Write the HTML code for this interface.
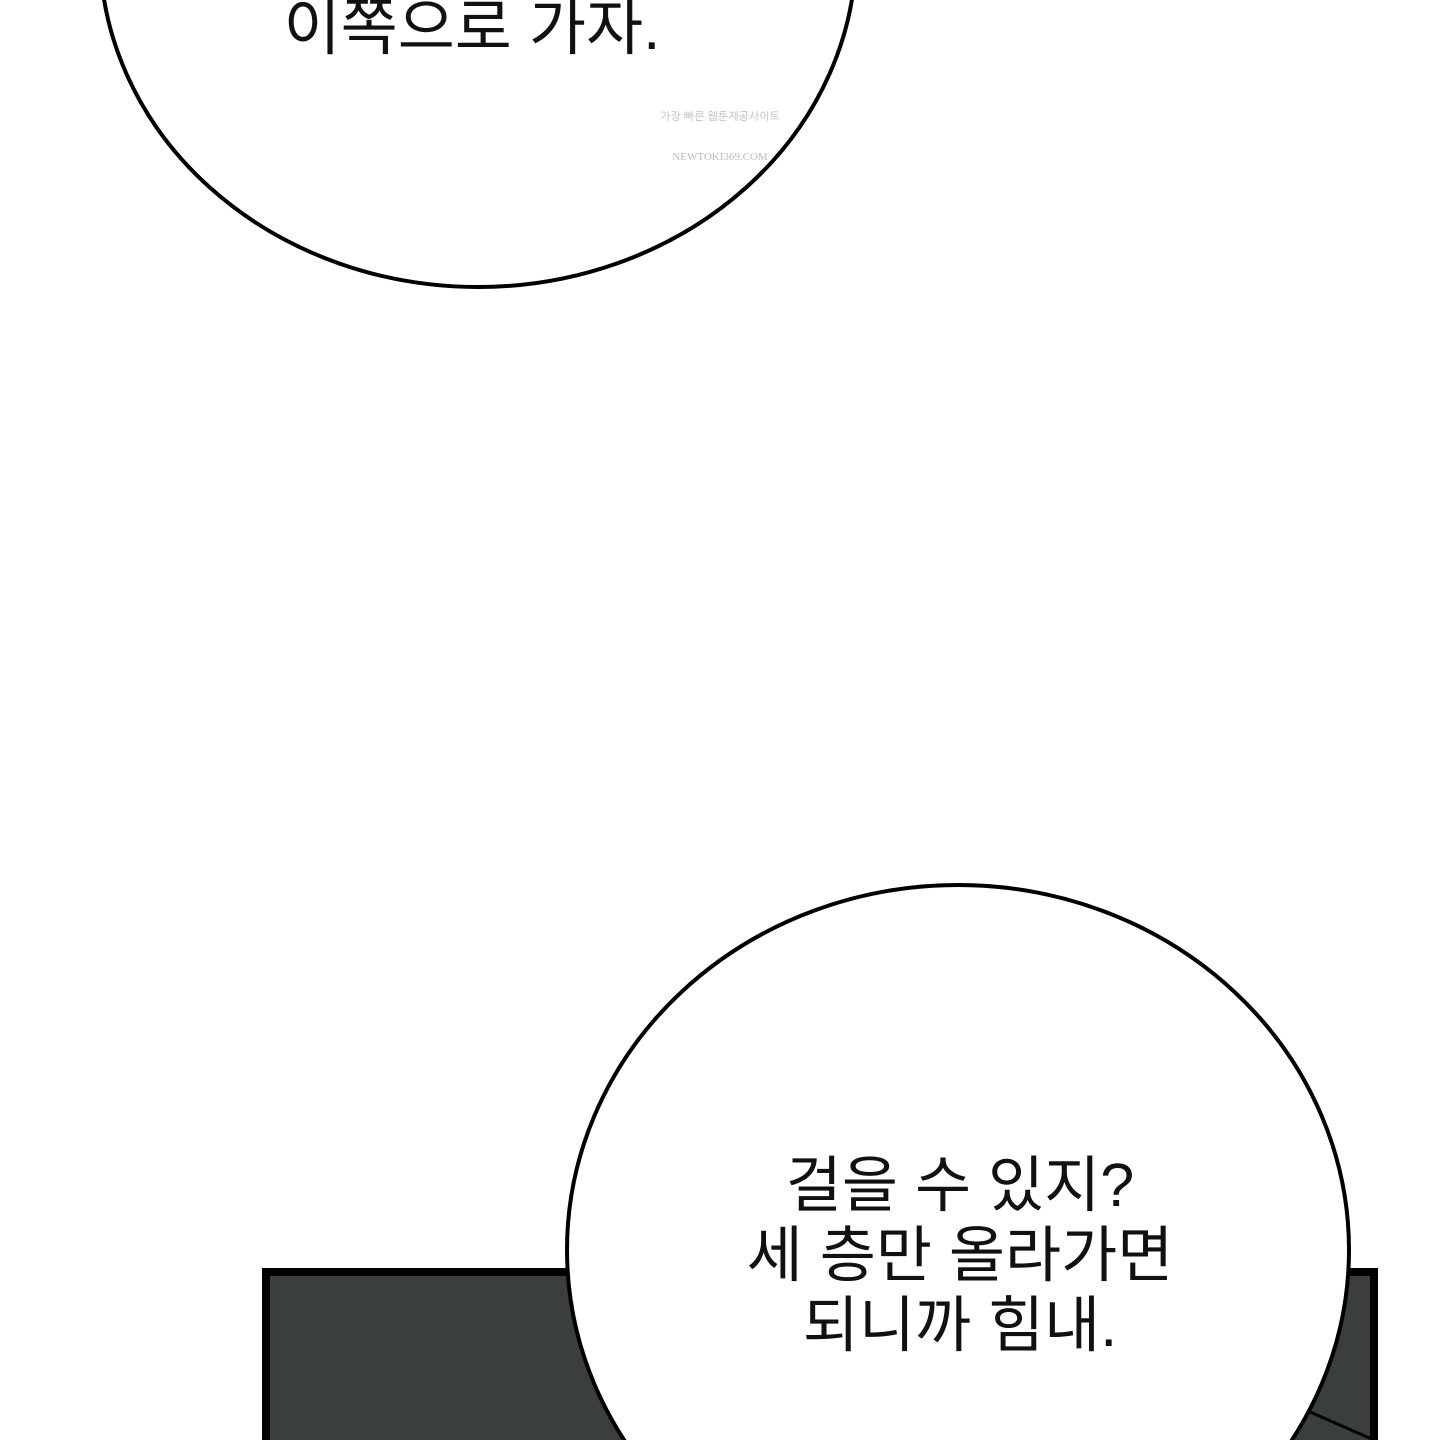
<!DOCTYPE html>
<html style="overflow:hidden"><head><meta charset="utf-8"><style>
html,body{margin:0;width:1440px;height:1440px;overflow:hidden}
body{background:#fff;position:relative;font-family:"Liberation Sans","Noto Sans CJK KR","NanumGothic",sans-serif;}
svg{position:absolute;left:0;top:0}
.t{position:absolute;color:#111;font-size:61px;text-align:center;line-height:70px;white-space:nowrap}
</style></head><body>
<svg width="1440" height="1440">
<ellipse cx="478" cy="-50" rx="378" ry="337" fill="#fff" stroke="#000" stroke-width="4"/>
<rect x="266" y="1272" width="1108" height="180" fill="#3a3f3b" stroke="#000" stroke-width="8"/>
<line x1="1310" y1="1412" x2="1374" y2="1440" stroke="#000" stroke-width="3"/>
<ellipse cx="958" cy="1250" rx="391" ry="365" fill="#fff" stroke="#000" stroke-width="4"/>
<text x="720" y="120" font-size="11" fill="#bbb" text-anchor="middle" font-family="Liberation Sans, NanumGothic, sans-serif">가장 빠른 웹툰제공사이트</text>
<text x="720" y="160" font-size="11" fill="#bbb" text-anchor="middle" font-family="Liberation Serif, serif">NEWTOKI369.COM</text>
</svg>
<div class="t" style="left:272px;top:-6px;width:400px;font-size:62px">이쪽으로 가자.</div>
<div class="t" style="left:700px;top:1150px;width:520px">걸을 수 있지?<br>세 층만 올라가면<br>되니까 힘내.</div>
</body></html>
